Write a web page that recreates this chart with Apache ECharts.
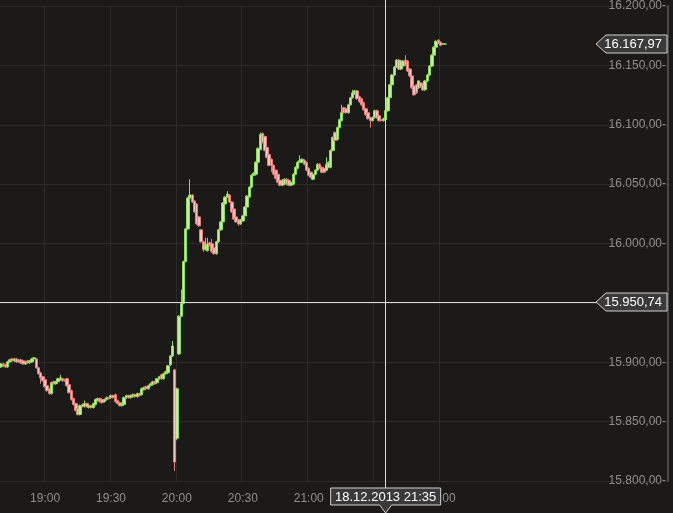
<!DOCTYPE html>
<html><head><meta charset="utf-8">
<script src="https://cdn.jsdelivr.net/npm/echarts@6/dist/echarts.min.js"></script>
<style>html,body{margin:0;padding:0;background:#1b1a19;}#c{width:673px;height:513px;}</style>
</head><body><div id="c"></div>
<script>
// ---- data (1-minute candles, 18.12.2013, starting 18:40) ----
const startTime = '18:40';
const slotCount = 304;
const opens = [15896.1,15898.6,15897.8,15896.1,15900.3,15902.8,15901.2,15902.8,15902.0,15902.0,15901.2,15898.6,15901.2,15899.5,15900.3,15902.8,15902.8,15895.3,15891.1,15887.8,
15885.3,15880.3,15877.7,15873.6,15883.6,15881.9,15883.6,15885.3,15886.1,15885.3,15886.1,15881.1,15876.1,15869.4,15865.2,15861.0,15856.0,15864.4,15862.7,15865.2,
15861.9,15863.5,15861.9,15864.4,15867.7,15869.4,15868.6,15866.9,15868.6,15870.2,15870.2,15871.9,15872.7,15867.7,15866.0,15863.5,15864.4,15870.2,15871.9,15870.2,
15871.1,15872.7,15871.1,15873.6,15872.7,15876.9,15879.4,15877.7,15880.3,15881.1,15883.6,15882.8,15886.1,15889.5,15886.1,15890.3,15891.1,15897.8,15905.3,15893.6,
15835.9,15907.0,15938.8,15949.6,15984.8,16012.3,16038.3,16040.8,16035.8,16033.2,16022.4,16011.5,16001.5,15994.8,15994.0,16000.6,15999.8,15996.5,15991.4,16001.5,
16011.5,16018.2,16033.2,16039.1,16040.8,16034.9,16029.1,16022.4,16019.9,16016.5,16019.0,16023.2,16030.7,16039.1,16047.5,16057.5,16058.3,16068.4,16079.2,16092.6,
16090.1,16080.9,16075.0,16070.9,16065.8,16061.7,16058.3,16053.3,16049.1,16050.0,16054.1,16053.3,16049.1,16050.0,16058.3,16063.3,16068.4,16068.4,16070.0,16068.4,
16063.3,16060.0,16054.1,16058.3,16061.7,16066.7,16064.2,16063.3,16061.7,16064.2,16064.2,16078.4,16093.4,16087.6,16097.6,16103.5,16114.3,16113.5,16110.2,16116.8,
16122.7,16126.0,16128.5,16123.5,16121.9,16118.5,16113.5,16110.2,16106.0,16103.5,16106.0,16111.8,16107.6,16104.3,16103.5,16104.3,16111.8,16122.7,16133.6,16141.9,
16148.6,16154.5,16146.9,16149.4,16154.5,16153.6,16146.9,16141.1,16132.7,16133.6,16131.1,16135.2,16133.6,16129.4,16136.9,16141.9,16149.4,16158.6,16165.3,16171.2,
16169.5,16167.97,16167.97];
const closes = [15898.6,15897.0,15896.1,15900.3,15902.0,15901.2,15902.8,15900.3,15900.3,15899.5,15898.6,15900.3,15899.5,15901.2,15902.8,15903.7,15895.3,15890.3,15886.9,15884.4,
15879.4,15876.1,15873.6,15882.8,15881.9,15883.6,15886.1,15886.9,15884.4,15884.4,15880.3,15874.4,15868.6,15864.4,15859.4,15856.0,15863.5,15862.7,15865.2,15862.7,
15863.5,15861.9,15865.2,15868.6,15869.4,15866.9,15866.0,15868.6,15870.2,15869.4,15871.9,15870.2,15866.9,15865.2,15863.5,15865.2,15870.2,15871.9,15870.2,15871.9,
15872.7,15871.1,15873.6,15871.9,15877.7,15878.6,15877.7,15880.3,15881.9,15883.6,15881.9,15886.1,15887.8,15886.1,15890.3,15892.0,15897.0,15905.3,15913.7,15815.9,
15877.7,15938.8,15949.6,15984.8,16012.3,16038.3,16040.8,16034.9,16026.6,16016.5,16014.9,16001.5,15994.8,15999.0,15999.8,15998.1,15993.1,15991.4,16001.5,16011.5,
16018.2,16034.1,16039.1,16041.6,16034.9,16026.6,16020.7,16018.2,16016.5,16019.9,16023.2,16030.7,16039.9,16047.5,16057.5,16059.2,16068.4,16080.1,16091.8,16085.1,
16078.4,16072.5,16065.8,16065.8,16058.3,16055.0,16051.6,16049.1,16053.3,16054.1,16050.0,16049.1,16051.6,16058.3,16064.2,16068.4,16070.0,16070.9,16066.7,16061.7,
16057.5,16055.8,16058.3,16061.7,16066.7,16063.3,16060.0,16060.0,16066.7,16068.4,16078.4,16089.3,16086.7,16097.6,16104.3,16110.2,16110.2,16110.2,16116.8,16122.7,
16126.9,16128.5,16121.9,16119.4,16116.8,16112.7,16108.5,16105.1,16103.5,16106.0,16111.8,16106.0,16103.5,16103.5,16105.1,16111.8,16122.7,16133.6,16141.9,16148.6,
16154.5,16146.9,16153.6,16153.6,16150.3,16145.3,16141.1,16131.1,16125.2,16126.9,16136.9,16131.9,16129.4,16136.9,16141.9,16149.4,16158.6,16165.3,16170.3,16168.7,
16167.0,16167.97,16167.97];
const lows = [15895.3,15896.1,15895.3,15895.3,15899.5,15900.3,15900.3,15899.5,15899.5,15898.6,15897.8,15897.8,15898.6,15898.6,15899.5,15902.0,15894.5,15889.5,15881.9,15883.6,
15878.6,15875.2,15872.7,15872.7,15881.1,15881.1,15882.8,15884.4,15883.6,15883.6,15879.4,15873.6,15867.7,15863.5,15858.6,15855.2,15855.2,15861.9,15861.9,15861.9,
15861.0,15861.0,15861.0,15863.5,15866.9,15866.0,15865.2,15866.0,15867.7,15868.6,15869.4,15869.4,15866.0,15864.4,15862.7,15862.7,15863.5,15869.4,15869.4,15869.4,
15870.2,15870.2,15870.2,15871.1,15871.9,15876.1,15876.9,15876.9,15879.4,15880.3,15881.1,15881.9,15885.3,15885.3,15885.3,15889.5,15890.3,15897.0,15904.5,15808.4,
15834.3,15906.1,15938.0,15948.8,15984.0,16011.5,16037.4,16034.1,16025.7,16015.7,16014.0,16000.6,15993.1,15994.0,15993.1,15997.3,15992.3,15990.6,15990.6,16000.6,
16010.7,16017.4,16032.4,16038.3,16034.1,16025.7,16019.9,16017.4,16014.9,16015.7,16018.2,16022.4,16029.9,16038.3,16046.6,16056.6,16057.5,16067.6,16078.4,16084.3,
16077.6,16071.7,16065.0,16060.0,16057.5,16054.1,16050.8,16048.3,16048.3,16049.1,16049.1,16048.3,16048.3,16049.1,16057.5,16062.5,16067.6,16067.6,16065.8,16060.9,
16056.6,16055.0,16053.3,16057.5,16060.9,16062.5,16059.2,16059.2,16060.9,16063.3,16063.3,16077.6,16085.9,16086.7,16096.8,16102.6,16109.3,16109.3,16109.3,16116.0,
16121.9,16125.2,16121.0,16118.5,16116.0,16111.8,16107.6,16104.3,16097.6,16102.6,16105.1,16105.1,16102.6,16102.6,16102.6,16103.5,16111.0,16121.9,16132.7,16141.1,
16147.8,16146.1,16146.1,16148.6,16149.4,16144.4,16140.2,16130.2,16124.4,16126.0,16130.2,16131.1,16128.5,16128.5,16136.0,16141.1,16148.6,16157.8,16160.3,16167.8,
16166.1,16167.5,16167.5];
const highs = [15899.5,15899.5,15898.6,15901.2,15902.8,15903.7,15903.7,15903.7,15902.8,15902.8,15902.0,15901.2,15902.0,15902.0,15903.7,15904.5,15903.7,15896.1,15892.0,15888.6,
15886.1,15881.1,15878.6,15883.6,15884.4,15884.4,15886.9,15889.5,15886.9,15886.1,15886.9,15881.9,15876.9,15870.2,15866.0,15861.9,15864.4,15865.2,15867.7,15866.0,
15864.4,15864.4,15866.0,15869.4,15870.2,15870.2,15869.4,15869.4,15871.1,15871.1,15872.7,15872.7,15873.6,15868.6,15866.9,15866.0,15871.1,15872.7,15872.7,15872.7,
15873.6,15873.6,15874.4,15874.4,15878.6,15879.4,15880.3,15881.1,15882.8,15884.4,15884.4,15886.9,15888.6,15890.3,15891.1,15892.8,15897.8,15906.1,15917.9,15894.5,
15878.6,15939.7,15961.3,15985.6,16013.2,16039.1,16054.1,16041.6,16036.6,16034.1,16023.2,16012.3,16002.3,16004.8,16004.8,16001.5,16004.0,15997.3,16002.3,16012.3,
16019.0,16034.9,16039.9,16044.1,16041.6,16035.8,16029.9,16023.2,16020.7,16020.7,16024.1,16031.5,16040.8,16048.3,16058.3,16060.0,16069.2,16080.9,16093.4,16093.4,
16090.9,16081.7,16075.8,16071.7,16066.7,16062.5,16059.2,16054.1,16054.1,16055.0,16055.0,16054.1,16052.5,16059.2,16065.0,16069.2,16074.2,16071.7,16070.9,16069.2,
16064.2,16060.9,16059.2,16062.5,16067.6,16067.6,16065.0,16064.2,16072.5,16069.2,16079.2,16090.1,16094.3,16098.5,16105.1,16116.8,16115.1,16114.3,16117.7,16123.5,
16129.4,16129.4,16129.4,16124.4,16122.7,16119.4,16114.3,16111.0,16106.8,16106.8,16112.7,16112.7,16108.5,16105.1,16106.0,16112.7,16123.5,16134.4,16142.8,16149.4,
16155.3,16155.3,16154.5,16154.5,16158.6,16154.5,16147.8,16141.9,16133.6,16134.4,16137.7,16136.0,16134.4,16137.7,16142.8,16150.3,16159.4,16166.1,16171.2,16172.0,
16170.3,16168.5,16168.5];
const yTicks = [15800, 15850, 15900, 15950, 16000, 16050, 16100, 16150, 16200];
const xTickLabels = ['19:00', '19:30', '20:00', '20:30', '21:00', '21:30', '22:00'];
const crossDate = '18.12.2013';
const crossTime = '21:35';
const crossPrice = 15950.74;
const lastPrice = 16167.97;

// ---- categories ----
const times = [];
(function(){
  const [h0, m0] = startTime.split(':').map(Number);
  for (let k = 0; k < slotCount; k++) {
    const t = h0 * 60 + m0 + k;
    const h = Math.floor(t / 60) % 24, m = t % 60;
    times.push(String(h).padStart(2, '0') + ':' + String(m).padStart(2, '0'));
  }
})();
const candles = times.map((t, i) => i < opens.length ? [opens[i], closes[i], lows[i], highs[i]] : '-');

function deFmt(v) {
  const s = v.toFixed(2).split('.');
  return s[0].replace(/\B(?=(\d{3})+(?!\d))/g, '.') + ',' + s[1];
}
const isTick = (idx) => xTickLabels.indexOf(times[idx]) >= 0;

const chart = echarts.init(document.getElementById('c'), null, { renderer: 'canvas' });
const FONT = 'Liberation Sans, Arial, sans-serif';
chart.setOption({
  backgroundColor: '#1b1a19',
  animation: false,
  grid: { left: 0, right: 5, top: 3, bottom: 32, containLabel: false },
  xAxis: {
    type: 'category', data: times, boundaryGap: true,
    axisLine: { show: false }, axisTick: { show: false },
    axisLabel: { interval: (i) => isTick(i), color: '#8e8e8e', fontSize: 12, fontFamily: FONT, margin: 12 },
    splitLine: { show: true, interval: (i) => isTick(i), lineStyle: { color: '#2c2b2a', width: 1 } }
  },
  yAxis: {
    type: 'value', position: 'right', min: yTicks[0], max: yTicks[yTicks.length - 1], interval: 50,
    axisLine: { show: true, lineStyle: { color: '#4a4a4a', width: 2 } },
    axisTick: { show: false },
    axisLabel: { inside: true, margin: 2, color: '#8e8e8e', fontSize: 12, fontFamily: FONT,
      formatter: (v) => deFmt(v) + '-' },
    splitLine: { show: true, lineStyle: { color: '#2c2b2a', width: 1 } }
  },
  series: [{
    type: 'candlestick', data: candles, barWidth: 3,
    itemStyle: { color: '#c8ec9f', color0: '#f4c4c0', borderColor: '#8edb55', borderColor0: '#e67b78', borderWidth: 1 }
  }]
});

// crosshair and price tags, positioned with the chart's own scales
const cx = chart.convertToPixel({ xAxisIndex: 0 }, crossTime);
const cy = chart.convertToPixel({ yAxisIndex: 0 }, crossPrice);
const ly = chart.convertToPixel({ yAxisIndex: 0 }, lastPrice);
const rightX = 667;
function priceTag(y, text, tipX) {
  return [
    { type: 'polygon', shape: { points: [[tipX, y], [tipX + 10, y - 9], [rightX, y - 9], [rightX, y + 9], [tipX + 10, y + 9]] },
      style: { fill: '#3a3a3a', stroke: '#d0d0d0', lineWidth: 1 }, z: 100 },
    { type: 'text', x: rightX - 5, y: y, style: { text: text, fill: '#ffffff', font: '13px ' + FONT, align: 'right', verticalAlign: 'middle' }, z: 101 }
  ];
}
const boxTop = 488, boxBot = 505;
chart.setOption({
  graphic: [
    { type: 'line', shape: { x1: 0, y1: Math.round(cy) + 0.5, x2: 596, y2: Math.round(cy) + 0.5 }, style: { stroke: '#dcdcdc', lineWidth: 1 }, z: 90 },
    { type: 'line', shape: { x1: Math.round(cx) - 0.5, y1: 0, x2: Math.round(cx) - 0.5, y2: boxTop }, style: { stroke: '#dcdcdc', lineWidth: 1 }, z: 90 },
    ...priceTag(Math.round(cy), deFmt(crossPrice), 596),
    ...priceTag(Math.round(ly), deFmt(lastPrice), 596),
    { type: 'polygon', shape: { points: [[cx - 55, boxTop], [cx + 55, boxTop], [cx + 55, boxBot], [cx + 6, boxBot], [cx, 513], [cx - 6, boxBot], [cx - 55, boxBot]] },
      style: { fill: '#3a3a3a', stroke: '#d0d0d0', lineWidth: 1 }, z: 100 },
    { type: 'text', x: cx, y: (boxTop + boxBot) / 2 + 0.5, style: { text: crossDate + ' ' + crossTime, fill: '#ffffff', font: '13px ' + FONT, align: 'center', verticalAlign: 'middle' }, z: 101 }
  ]
});
</script></body></html>
